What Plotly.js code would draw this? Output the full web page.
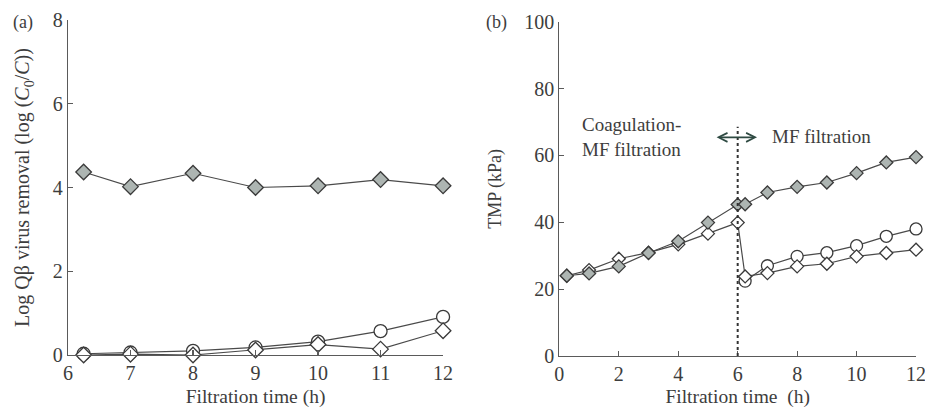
<!DOCTYPE html>
<html>
<head>
<meta charset="utf-8">
<script src="https://cdn.plot.ly/plotly-3.0.1.min.js"></script>
<style>html,body{margin:0;padding:0;background:#fff;}#chart{width:925px;height:408px;}</style>
</head>
<body>
<div id="chart"></div>
<script>
// ---- Panel (a): Log Qβ virus removal ----
const aTime = [6.25, 7, 8, 9, 10, 11, 12];
const aGrayDiamond = [4.37, 4.02, 4.34, 4.0, 4.04, 4.19, 4.04];
const aOpenCircle = [0.03, 0.06, 0.1, 0.18, 0.32, 0.57, 0.91];
const aOpenDiamondTime = [6.25, 7, 8, 9, 10, 11, 12];
const aOpenDiamond = [0.0, 0.02, 0.0, 0.12, 0.25, 0.14, 0.58];

// ---- Panel (b): TMP ----
const bGrayTime = [0.25, 1, 2, 3, 4, 5, 6, 6.25, 7, 8, 9, 10, 11, 12];
const bGrayDiamond = [24, 24.7, 26.8, 30.8, 34.3, 39.9, 45.3, 45.4, 48.9, 50.6, 51.9, 54.7, 57.9, 59.5];
const bOpenDiamondTime = [0.25, 1, 2, 3, 4, 5, 6, 6.25, 7, 8, 9, 10, 11, 12];
const bOpenDiamond = [24, 25.7, 29.1, 30.9, 33.4, 36.6, 39.9, 23.8, 24.8, 26.8, 27.6, 29.8, 30.8, 31.8];
const bOpenCircleTime = [6.25, 7, 8, 9, 10, 11, 12];
const bOpenCircle = [22.4, 27, 29.8, 30.9, 33, 35.8, 38];

const aXTicks = [6, 7, 8, 9, 10, 11, 12];
const aYTicks = [0, 2, 4, 6, 8];
const bXTicks = [0, 2, 4, 6, 8, 10, 12];
const bYTicks = [0, 20, 40, 60, 80, 100];

const FONT = '"Liberation Serif", "Times New Roman", "DejaVu Serif", serif';
const TXT = '#3d3d3d';
const LINE = '#4a4a4a';
const GRAYFILL = '#adb5b2';

function tr(x, y, xa, ya, symbol, fill, size) {
  return {
    x: x, y: y, xaxis: xa, yaxis: ya, type: 'scatter', mode: 'lines+markers',
    cliponaxis: false, showlegend: false, hoverinfo: 'skip',
    line: {color: LINE, width: 1.2},
    marker: {symbol: symbol, size: size, color: fill, line: {color: '#3a3a3a', width: 1.3}}
  };
}

const data = [
  tr(aTime, aOpenCircle, 'x', 'y', 'circle', '#ffffff', 13),
  tr(aOpenDiamondTime, aOpenDiamond, 'x', 'y', 'diamond', '#ffffff', 12),
  tr(aTime, aGrayDiamond, 'x', 'y', 'diamond', GRAYFILL, 12),
  tr(bOpenCircleTime, bOpenCircle, 'x2', 'y2', 'circle', '#ffffff', 12),
  tr(bOpenDiamondTime, bOpenDiamond, 'x2', 'y2', 'diamond', '#ffffff', 10),
  tr(bGrayTime, bGrayDiamond, 'x2', 'y2', 'diamond', GRAYFILL, 10)
];

function axis(extra) {
  return Object.assign({
    showline: true, linecolor: '#5a5a5a', linewidth: 1.2,
    showgrid: false, zeroline: false,
    ticks: 'inside', ticklen: 5, tickcolor: '#5a5a5a', tickwidth: 1.2,
    tickfont: {family: FONT, size: 20, color: TXT},
    ticklabeloverflow: 'allow',
    automargin: false, fixedrange: true
  }, extra);
}

const layout = {
  width: 925, height: 408,
  margin: {l: 0, r: 0, t: 0, b: 0},
  paper_bgcolor: '#ffffff', plot_bgcolor: '#ffffff',
  font: {family: FONT, color: TXT},
  xaxis: axis({domain: [0.0735, 0.479], range: [6, 12.0001], tickvals: aXTicks, anchor: 'y',
    title: {text: 'Filtration time (h)', font: {family: FONT, size: 19.5, color: TXT}, standoff: 7}}),
  yaxis: axis({domain: [0.1299, 0.951], range: [0, 8.0001], tickvals: aYTicks, anchor: 'x',
    title: {text: 'Log Qβ virus removal (log (<i>C</i><sub>0</sub>/<i>C</i>))', font: {family: FONT, size: 20, color: TXT}, standoff: 17}}),
  xaxis2: axis({domain: [0.6047, 0.9903], range: [0, 12.0001], tickvals: bXTicks, anchor: 'y2',
    title: {text: 'Filtration time  (h)', font: {family: FONT, size: 19.5, color: TXT}, standoff: 7}}),
  yaxis2: axis({domain: [0.1275, 0.9468], range: [0, 100.001], tickvals: bYTicks, anchor: 'x2',
    title: {text: 'TMP (kPa)', font: {family: FONT, size: 18, color: TXT}, standoff: 17}}),
  shapes: [
    {type: 'line', xref: 'x2', yref: 'y2', x0: 6, x1: 6, y0: 0, y1: 68.6,
     line: {color: '#333', width: 2, dash: 'dot'}}
  ],
  annotations: [
    {text: '(a)', xref: 'paper', yref: 'paper', x: 23/925, y: 1 - 22/408, xanchor: 'center', yanchor: 'middle',
     showarrow: false, font: {family: FONT, size: 18, color: TXT}},
    {text: '(b)', xref: 'paper', yref: 'paper', x: 497/925, y: 1 - 22/408, xanchor: 'center', yanchor: 'middle',
     showarrow: false, font: {family: FONT, size: 18, color: TXT}},
    {text: 'Coagulation-<br>MF filtration', xref: 'x2', yref: 'y2', x: 0.7, y: 65.4,
     xanchor: 'left', yanchor: 'middle', align: 'left', showarrow: false,
     font: {family: FONT, size: 19, color: TXT}},
    {text: 'MF filtration', xref: 'x2', yref: 'y2', x: 7.1, y: 65.6,
     xanchor: 'left', yanchor: 'middle', showarrow: false,
     font: {family: FONT, size: 19, color: TXT}},
    {text: '', xref: 'x2', yref: 'y2', x: 6.65, y: 65.4, axref: 'x2', ayref: 'y2', ax: 5.24, ay: 65.4,
     showarrow: true, arrowside: 'end+start', arrowhead: 5, arrowsize: 1.1, arrowwidth: 1.6,
     arrowcolor: '#2e4a42', standoff: 0, startstandoff: 0}
  ]
};

Plotly.newPlot('chart', data, layout, {staticPlot: true, displayModeBar: false});
</script>
</body>
</html>
